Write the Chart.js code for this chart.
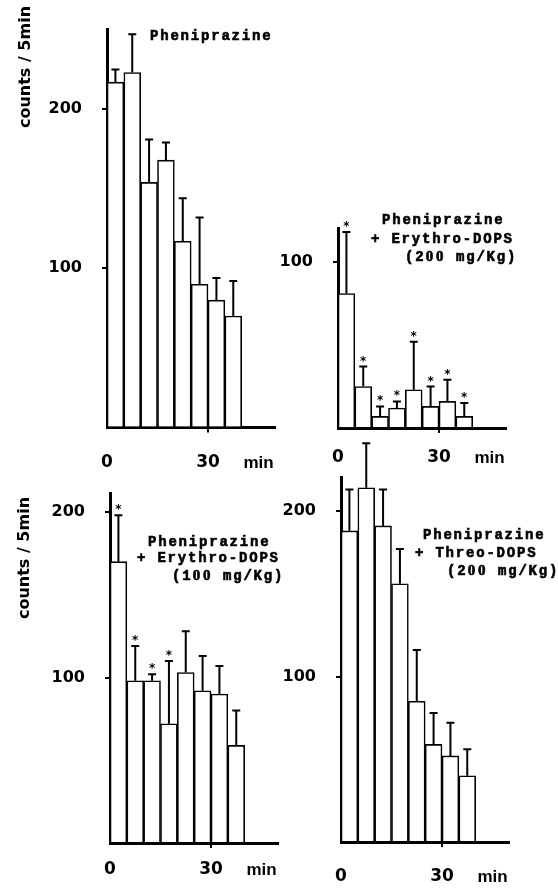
<!DOCTYPE html>
<html>
<head>
<meta charset="utf-8">
<script src="https://cdn.jsdelivr.net/npm/chart.js@4.4.0/dist/chart.umd.min.js"></script>
<style>
  html, body { margin: 0; padding: 0; background: #fff; }
  #wrap { position: relative; width: 558px; height: 888px; }
  canvas { position: absolute; left: 0; top: 0; }
</style>
</head>
<body>
<div id="wrap">
  <canvas id="c1" width="558" height="888"></canvas>
  <canvas id="c2" width="558" height="888"></canvas>
  <canvas id="c3" width="558" height="888"></canvas>
  <canvas id="c4" width="558" height="888"></canvas>
</div>
<script>
// 5 min bins, bar centres in minutes
const binCenters = [2.5, 7.5, 12.5, 17.5, 22.5, 27.5, 32.5, 37.5];
const xTickLabels = ['0', '30', 'min'];
const xTickValues = [0, 30, 45];
const yTitle = 'counts / 5min';

// Pheniprazine
const phenMean = [217, 223, 154, 168, 117, 90, 80, 70];
const phenErr = [8, 24, 27, 11, 27, 42, 14, 22];
const phenStar = [0, 0, 0, 0, 0, 0, 0, 0];

// Pheniprazine + Erythro-DOPS 200 mg/Kg
const ery200Mean = [81, 25, 7, 12, 23, 13, 16, 7];
const ery200Err = [37, 12, 6, 4, 29, 12, 13, 8];
const ery200Star = [1, 1, 1, 1, 1, 1, 1, 1];

// Pheniprazine + Erythro-DOPS 100 mg/Kg
const ery100Mean = [170, 98, 98, 72, 103, 92, 90, 59];
const ery100Err = [28, 21, 4, 38, 25, 21, 17, 21];
const ery100Star = [1, 1, 1, 1, 0, 0, 0, 0];

// Pheniprazine + Threo-DOPS 200 mg/Kg
const threoMean = [188, 214, 191, 156, 85, 59, 52, 40];
const threoErr = [25, 27, 22, 21, 31, 19, 20, 16];
const threoStar = [0, 0, 0, 0, 0, 0, 0, 0];

const X_MAX = 50;
const Y_W = 95;
const X_H = 10;
const W = 558, H = 888;
const PITCH = 10.2; // typewriter pitch of the panel captions

// typewriter line, one cell per char (plain zero instead of Liberation Mono's dotted one)
function typeLine(ctx, text, x0, y) {
  ctx.textAlign = 'center';
  ctx.lineWidth = 0.6;
  [...text].forEach((ch, i) => {
    if (ch === ' ') return;
    ctx.font = ch === '0' ? 'bold 15px "Liberation Serif"' : 'bold 14px "Liberation Mono"';
    const cx = x0 + i * PITCH + 4.2;
    ctx.fillText(ch, cx, y);
    ctx.strokeText(ch, cx, y);
  });
}

function decor(p) {
  return {
    id: 'decor',
    afterDatasetsDraw(chart) {
      const { ctx, scales: { x, y } } = chart;
      ctx.save();
      ctx.strokeStyle = '#000';
      ctx.fillStyle = '#000';
      ctx.lineWidth = 2;
      // error bars + stars
      p.means.forEach((m, i) => {
        const px = x.getPixelForValue(binCenters[i]);
        const y0 = y.getPixelForValue(m);
        const y1 = y.getPixelForValue(m + p.errs[i]);
        ctx.beginPath();
        ctx.moveTo(px, y0);
        ctx.lineTo(px, y1);
        ctx.moveTo(px - 4, y1);
        ctx.lineTo(px + 4, y1);
        ctx.stroke();
        if (p.stars[i]) {
          ctx.font = 'bold 12px "DejaVu Sans"';
          ctx.textAlign = 'center';
          ctx.textBaseline = 'alphabetic';
          ctx.fillText('*', px, y1 - 2);
        }
      });
      // x labels
      ctx.textBaseline = 'middle';
      ctx.textAlign = 'center';
      xTickLabels.forEach((t, i) => {
        ctx.font = t === 'min' ? 'bold 17px "Liberation Sans"' : 'bold 17px "DejaVu Sans"';
        ctx.fillText(t, x.getPixelForValue(xTickValues[i]), p.xLabelY);
      });
      // panel caption
      p.title.forEach((line, i) => {
        typeLine(ctx, line, p.titlePos[i][0], p.titlePos[i][1]);
      });
      // y title
      if (p.yTitlePos) {
        ctx.translate(p.yTitlePos[0], p.yTitlePos[1]);
        ctx.rotate(-Math.PI / 2);
        ctx.font = 'bold 16px "DejaVu Sans"';
        ctx.textAlign = 'center';
        ctx.fillText(yTitle, 0, 0);
      }
      ctx.restore();
    }
  };
}

function buildPanel(id, f, p) {
  const R = f.left + X_MAX * f.pxPerMin;
  const T = f.bottom - f.yMax * f.pxPerUnit;
  return new Chart(document.getElementById(id), {
    type: 'bar',
    data: {
      datasets: [{
        data: p.means.map((m, i) => ({ x: binCenters[i], y: m })),
        backgroundColor: '#fff',
        borderColor: '#000',
        borderWidth: 1.6,
        barPercentage: 1,
        categoryPercentage: 1
      }]
    },
    options: {
      responsive: false,
      animation: false,
      layout: { padding: { left: f.left - Y_W, top: T, right: W - R, bottom: H - f.bottom - X_H } },
      plugins: { legend: { display: false }, tooltip: { enabled: false } },
      scales: {
        x: {
          type: 'linear', min: 0, max: X_MAX, offset: false,
          grid: {
            offset: false, drawOnChartArea: false, tickLength: 5, lineWidth: 2,
            color: c => (c.tick && c.tick.value === 30) ? '#000' : 'rgba(0,0,0,0)'
          },
          border: { color: '#000', width: 3 },
          ticks: { display: false, stepSize: 30, includeBounds: false },
          afterFit: s => { s.height = X_H; }
        },
        y: {
          min: 0, max: f.yMax,
          grid: {
            drawOnChartArea: false, tickLength: 5, lineWidth: 2,
            color: c => (c.tick && c.tick.value > 0) ? '#000' : 'rgba(0,0,0,0)'
          },
          border: { color: '#000', width: 3 },
          ticks: {
            stepSize: 100, includeBounds: false, padding: 20, color: '#000',
            font: { family: 'DejaVu Sans', weight: 'bold', size: 16 },
            callback: v => v === 0 ? '' : String(v)
          },
          afterFit: s => { s.width = Y_W; }
        }
      }
    },
    plugins: [decor(p)]
  });
}

buildPanel('c1',
  { left: 107, bottom: 427.5, pxPerMin: 3.367, pxPerUnit: 1.65, yMax: 250 },
  { means: phenMean, errs: phenErr, stars: phenStar, xLabelY: 463,
    title: ['Pheniprazine'], titlePos: [[150, 36]], yTitlePos: [26, 67] });

buildPanel('c2',
  { left: 338, bottom: 428, pxPerMin: 3.367, pxPerUnit: 1.66, yMax: 120 },
  { means: ery200Mean, errs: ery200Err, stars: ery200Star, xLabelY: 458,
    title: ['Pheniprazine', '+ Erythro-DOPS', '(200 mg/Kg)'],
    titlePos: [[382, 220], [371, 239], [405, 257]] });

buildPanel('c3',
  { left: 110, bottom: 843, pxPerMin: 3.367, pxPerUnit: 1.655, yMax: 211 },
  { means: ery100Mean, errs: ery100Err, stars: ery100Star, xLabelY: 870,
    title: ['Pheniprazine', '+ Erythro-DOPS', '(100 mg/Kg)'],
    titlePos: [[148, 542], [137, 558], [172, 576]], yTitlePos: [25, 558] });

buildPanel('c4',
  { left: 341, bottom: 842, pxPerMin: 3.367, pxPerUnit: 1.655, yMax: 220 },
  { means: threoMean, errs: threoErr, stars: threoStar, xLabelY: 877,
    title: ['Pheniprazine', '+ Threo-DOPS', '(200 mg/Kg)'],
    titlePos: [[423, 535], [415, 553], [447, 571]] });
</script>
</body>
</html>
